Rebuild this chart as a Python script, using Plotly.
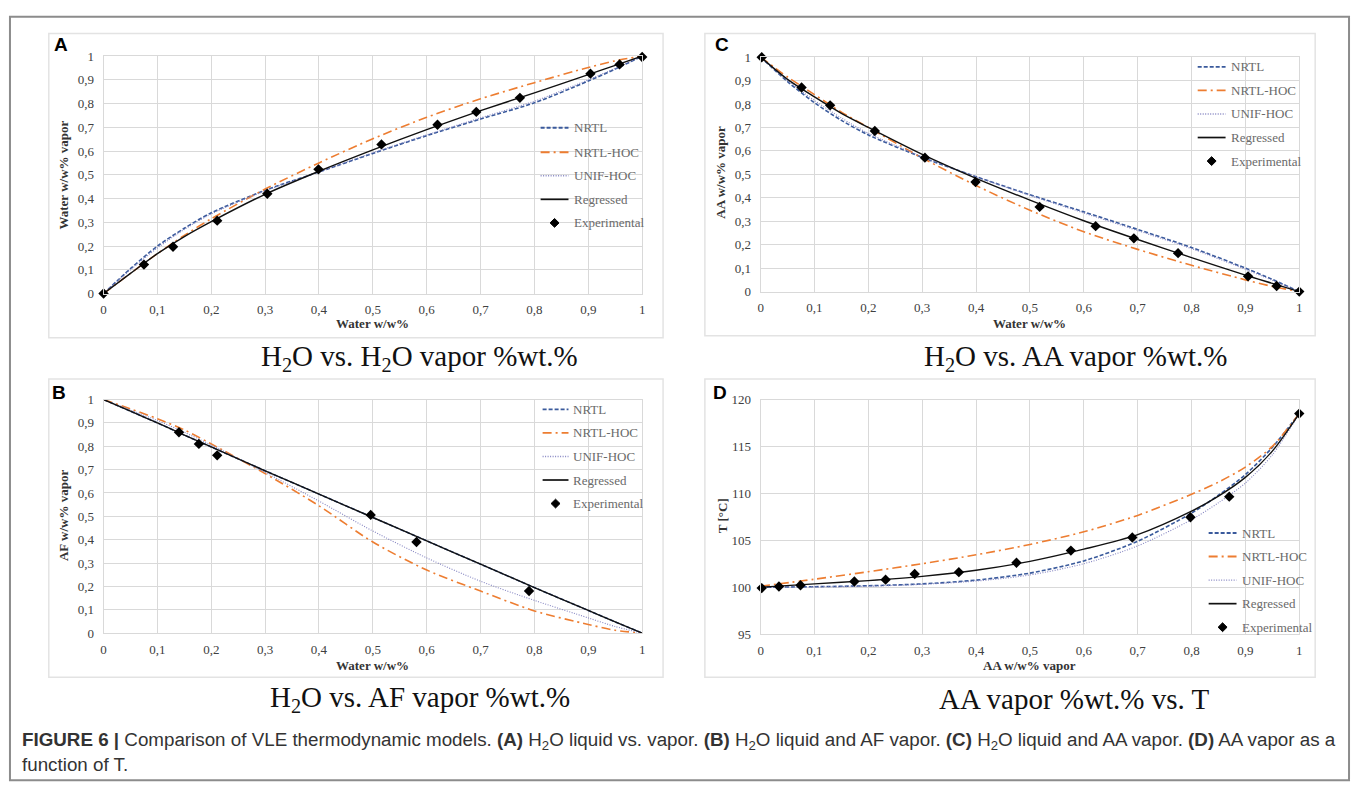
import plotly.graph_objects as go

# ---------------- data ----------------
tick_vals01 = [0, 0.1, 0.2, 0.3, 0.4, 0.5, 0.6, 0.7, 0.8, 0.9, 1.0]
tick_text01 = ["0", "0,1", "0,2", "0,3", "0,4", "0,5", "0,6", "0,7", "0,8", "0,9", "1"]
tick_vals_T = [95, 100, 105, 110, 115, 120]
tick_text_T = ["95", "100", "105", "110", "115", "120"]

series_names = ["NRTL", "NRTL-HOC", "UNIF-HOC", "Regressed", "Experimental"]

# Panel A: H2O liquid vs H2O vapor
A_x = [0, 0.05, 0.1, 0.15, 0.2, 0.3, 0.4, 0.5, 0.6, 0.7, 0.8, 0.9, 0.95, 1.0]
A_nrtl = [0, 0.105, 0.2, 0.275, 0.34, 0.435, 0.512, 0.59, 0.665, 0.735, 0.803, 0.895, 0.945, 1.0]
A_nrtl_hoc = [0, 0.085, 0.168, 0.245, 0.315, 0.44, 0.55, 0.652, 0.742, 0.82, 0.888, 0.952, 0.98, 1.0]
A_unif_hoc = [0, 0.1, 0.192, 0.27, 0.335, 0.432, 0.512, 0.593, 0.668, 0.74, 0.81, 0.9, 0.948, 1.0]
A_regressed = [0, 0.085, 0.168, 0.24, 0.303, 0.418, 0.515, 0.605, 0.69, 0.77, 0.845, 0.922, 0.961, 1.0]
A_exp_x = [0, 0.075, 0.129, 0.211, 0.304, 0.399, 0.516, 0.62, 0.692, 0.773, 0.904, 0.958, 1.0]
A_exp_y = [0, 0.122, 0.197, 0.307, 0.42, 0.523, 0.628, 0.711, 0.765, 0.824, 0.926, 0.965, 0.996]

# Panel B: H2O liquid vs AF vapor
B_x = [0, 0.05, 0.1, 0.15, 0.2, 0.3, 0.4, 0.5, 0.6, 0.7, 0.8, 0.9, 0.95, 1.0]
B_nrtl = [1, 0.95, 0.9, 0.848, 0.797, 0.695, 0.595, 0.495, 0.395, 0.295, 0.195, 0.097, 0.048, 0]
B_nrtl_hoc = [1, 0.96, 0.918, 0.87, 0.81, 0.683, 0.545, 0.39, 0.27, 0.18, 0.095, 0.037, 0.012, 0]
B_unif_hoc = [1, 0.955, 0.91, 0.86, 0.805, 0.688, 0.565, 0.437, 0.322, 0.222, 0.14, 0.065, 0.028, 0]
B_regressed = [1, 0.95, 0.9, 0.848, 0.797, 0.695, 0.595, 0.495, 0.395, 0.295, 0.195, 0.097, 0.048, 0]
B_exp_x = [0.14, 0.177, 0.211, 0.496, 0.581, 0.79]
B_exp_y = [0.86, 0.81, 0.761, 0.506, 0.39, 0.18]

# Panel C: H2O liquid vs AA vapor
C_x = [0, 0.05, 0.1, 0.15, 0.2, 0.3, 0.4, 0.5, 0.6, 0.7, 0.8, 0.9, 0.95, 1.0]
C_nrtl = [1, 0.895, 0.805, 0.73, 0.668, 0.572, 0.49, 0.413, 0.34, 0.265, 0.188, 0.1, 0.052, 0]
C_nrtl_hoc = [1, 0.915, 0.84, 0.765, 0.7, 0.57, 0.452, 0.347, 0.255, 0.18, 0.112, 0.05, 0.022, 0]
C_unif_hoc = [1, 0.9, 0.815, 0.74, 0.675, 0.575, 0.49, 0.41, 0.335, 0.26, 0.183, 0.095, 0.048, 0]
C_regressed = [1, 0.905, 0.83, 0.76, 0.7, 0.585, 0.483, 0.39, 0.302, 0.222, 0.145, 0.07, 0.035, 0]
C_exp_x = [0.002, 0.076, 0.129, 0.212, 0.305, 0.399, 0.518, 0.622, 0.693, 0.775, 0.905, 0.958, 1.0]
C_exp_y = [0.999, 0.87, 0.794, 0.685, 0.571, 0.467, 0.361, 0.279, 0.227, 0.164, 0.065, 0.024, 0.0]

# Panel D: AA vapor vs T
D_x = [0, 0.1, 0.2, 0.3, 0.4, 0.5, 0.6, 0.7, 0.8, 0.85, 0.9, 0.95, 1.0]
D_nrtl = [100.0, 100.05, 100.15, 100.35, 100.75, 101.5, 102.8, 104.9, 107.9, 109.8, 112.0, 114.9, 118.5]
D_nrtl_hoc = [100.1, 100.85, 101.65, 102.5, 103.45, 104.55, 105.9, 107.65, 109.9, 111.2, 112.8, 115.0, 118.5]
D_unif_hoc = [100.0, 100.03, 100.1, 100.3, 100.65, 101.3, 102.5, 104.4, 107.2, 109.0, 111.1, 114.1, 118.5]
D_regressed = [100.0, 100.35, 100.7, 101.15, 101.8, 102.75, 104.05, 105.6, 108.1, 109.7, 111.7, 114.5, 118.5]
D_exp_x = [0.002, 0.034, 0.074, 0.174, 0.232, 0.286, 0.368, 0.475, 0.576, 0.69, 0.798, 0.87, 1.0]
D_exp_y = [99.9, 100.07, 100.2, 100.6, 100.8, 101.4, 101.6, 102.6, 103.9, 105.3, 107.45, 109.65, 118.5]

panel_titles = ["H<sub>2</sub>O vs. H<sub>2</sub>O vapor %wt.%",
                "H<sub>2</sub>O vs. AF vapor %wt.%",
                "H<sub>2</sub>O vs. AA vapor %wt.%",
                "AA vapor %wt.% vs. T"]
x_titles = ["Water w/w%", "Water w/w%", "Water w/w%", "AA w/w% vapor"]
y_titles = ["Water w/w% vapor", "AF w/w% vapor", "AA w/w% vapor", "T [°C]"]
letters = ["A", "B", "C", "D"]
caption_line1 = ("<b>FIGURE 6 |</b> Comparison of VLE thermodynamic models. <b>(A)</b> H<sub>2</sub>O liquid vs. vapor. "
                 "<b>(B)</b> H<sub>2</sub>O liquid and AF vapor. <b>(C)</b> H<sub>2</sub>O liquid and AA vapor. "
                 "<b>(D)</b> AA vapor as a")
caption_line2 = "function of T."

# ---------------- styling ----------------
W, H = 1358, 804
def px(x):
    return x / W
def py(y):
    return 1 - y / H

COL = {"NRTL": "#3A5A9C", "NRTL-HOC": "#ED7D31", "UNIF-HOC": "#8585C2", "Regressed": "#111111"}
DASH = {"NRTL": "4px,2px", "NRTL-HOC": "9px,4px,2px,4px", "UNIF-HOC": "1px,1.5px", "Regressed": "solid"}
WID = {"NRTL": 1.6, "NRTL-HOC": 1.6, "UNIF-HOC": 1.1, "Regressed": 1.4}
SERIF = "Liberation Serif, Times New Roman, serif"
SANS = "Liberation Sans, Arial, sans-serif"

panels = [
    dict(key="A", ax="", x0=101, x1=642, y0=50, y1=292, box=(46, 27, 663, 337),
         curves=(A_x, A_nrtl, A_nrtl_hoc, A_unif_hoc, A_regressed), exp=(A_exp_x, A_exp_y), err=0.008,
         ytv=tick_vals01, ytt=tick_text01, yr=[0, 1],
         leg=dict(lx0=540, lx1=568, tx=572, mx=554, rows=[123, 148, 172, 196, 220]),
         title=(418, 358), xt=(371, 323), yt=(61, 171), letter=(58, 38)),
    dict(key="B", ax="3", x0=101, x1=642, y0=400, y1=638, box=(46, 379, 663, 683),
         curves=(B_x, B_nrtl, B_nrtl_hoc, B_unif_hoc, B_regressed), exp=(B_exp_x, B_exp_y), err=0.008,
         ytv=tick_vals01, ytt=tick_text01, yr=[0, 1],
         leg=dict(lx0=542, lx1=568, tx=571, mx=555, rows=[410, 434, 458, 482, 506]),
         title=(419, 705), xt=(371, 671), yt=(61, 518), letter=(56, 393)),
    dict(key="C", ax="2", x0=761, x1=1302, y0=51, y1=290, box=(705, 27, 1318, 335),
         curves=(C_x, C_nrtl, C_nrtl_hoc, C_unif_hoc, C_regressed), exp=(C_exp_x, C_exp_y), err=0.008,
         ytv=tick_vals01, ytt=tick_text01, yr=[0, 1],
         leg=dict(lx0=1200, lx1=1228, tx=1231, mx=1214, rows=[61, 85, 109, 133, 157]),
         title=(1077, 358), xt=(1031, 323), yt=(721, 168), letter=(722, 38)),
    dict(key="D", ax="4", x0=761, x1=1302, y0=400, y1=639, box=(705, 379, 1318, 683),
         curves=(D_x, D_nrtl, D_nrtl_hoc, D_unif_hoc, D_regressed), exp=(D_exp_x, D_exp_y), err=0.25,
         ytv=tick_vals_T, ytt=tick_text_T, yr=[95, 120],
         leg=dict(lx0=1211, lx1=1239, tx=1242, mx=1225, rows=[536, 560, 584, 608, 632]),
         title=(1076, 705), xt=(1031, 671), yt=(723, 518), letter=(720, 393)),
]

fig = go.Figure()
shapes = []
annotations = []

# outer frame
shapes.append(dict(type="rect", xref="paper", yref="paper", x0=px(7), x1=px(1352), y0=py(788), y1=py(10),
                   line=dict(color="#8c8c8c", width=2), fillcolor="rgba(0,0,0,0)", layer="below"))

layout_axes = {}
for i, p in enumerate(panels):
    xa = "x" + p["ax"]
    ya = "y" + p["ax"]
    xs, nrtl, hoc, unif, reg = p["curves"]
    for name, ys in zip(series_names[:4], [nrtl, hoc, unif, reg]):
        fig.add_trace(go.Scatter(x=xs, y=ys, mode="lines", name=name, xaxis=xa, yaxis=ya,
                                 line=dict(color=COL[name], dash=DASH[name], width=WID[name], shape="spline", smoothing=0.8),
                                 showlegend=False, cliponaxis=False, hoverinfo="skip"))
    ex, ey = p["exp"]
    fig.add_trace(go.Scatter(x=ex, y=ey, mode="markers", name="Experimental", xaxis=xa, yaxis=ya,
                             marker=dict(symbol="diamond", size=8, color="#000000"),
                             error_y=dict(type="constant", value=p["err"], color="#000000", thickness=1.4, width=0),
                             showlegend=False, cliponaxis=False))

    axis_common = dict(showgrid=True, gridcolor="#d9d9d9", gridwidth=1, showline=True, mirror=True,
                       linecolor="#d9d9d9", linewidth=1, zeroline=False, ticks="", fixedrange=True,
                       tickfont=dict(family=SERIF, size=13, color="#404040"))
    layout_axes["xaxis" + p["ax"]] = dict(axis_common, domain=[px(p["x0"]), px(p["x1"])], range=[0, 1],
                                          tickvals=tick_vals01, ticktext=tick_text01, anchor=ya,
                                          ticklabelstandoff=4)
    layout_axes["yaxis" + p["ax"]] = dict(axis_common, domain=[py(p["y1"]), py(p["y0"])], range=p["yr"],
                                          tickvals=p["ytv"], ticktext=p["ytt"], anchor=xa,
                                          ticklabelstandoff=6)

    bx0, by0, bx1, by1 = p["box"]
    shapes.append(dict(type="rect", xref="paper", yref="paper", x0=px(bx0), x1=px(bx1), y0=py(by1), y1=py(by0),
                       line=dict(color="#e3e3e3", width=1.5), fillcolor="rgba(0,0,0,0)", layer="below"))

    lg = p["leg"]
    for name, ry in zip(series_names, lg["rows"]):
        if name != "Experimental":
            shapes.append(dict(type="line", xref="paper", yref="paper", x0=px(lg["lx0"]), x1=px(lg["lx1"]),
                               y0=py(ry), y1=py(ry),
                               line=dict(color=COL[name], dash=DASH[name] if name != "Regressed" else "solid",
                                         width=WID[name] + 0.3)))
        else:
            cx, cy, r = lg["mx"], ry, 4.5
            path = f"M {px(cx)} {py(cy - r)} L {px(cx + r)} {py(cy)} L {px(cx)} {py(cy + r)} L {px(cx - r)} {py(cy)} Z"
            shapes.append(dict(type="path", xref="paper", yref="paper", path=path,
                               fillcolor="#000000", line=dict(color="#000000", width=1)))
        annotations.append(dict(text=name, xref="paper", yref="paper", x=px(lg["tx"]), y=py(ry),
                                xanchor="left", yanchor="middle", showarrow=False,
                                font=dict(family=SERIF, size=13, color="#6a6a6a")))

    annotations.append(dict(text=panel_titles[i], xref="paper", yref="paper", x=px(p["title"][0]), y=py(p["title"][1]),
                            xanchor="center", yanchor="middle", showarrow=False,
                            font=dict(family=SERIF, size=29, color="#111111")))
    annotations.append(dict(text="<b>" + x_titles[i] + "</b>", xref="paper", yref="paper",
                            x=px(p["xt"][0]), y=py(p["xt"][1]), xanchor="center", yanchor="middle",
                            showarrow=False, font=dict(family=SERIF, size=13, color="#333333")))
    annotations.append(dict(text="<b>" + y_titles[i] + "</b>", xref="paper", yref="paper",
                            x=px(p["yt"][0]), y=py(p["yt"][1]), xanchor="center", yanchor="middle",
                            textangle=-90, showarrow=False, font=dict(family=SERIF, size=13, color="#333333")))
    annotations.append(dict(text="<b>" + letters[i] + "</b>", xref="paper", yref="paper",
                            x=px(p["letter"][0]), y=py(p["letter"][1]), xanchor="center", yanchor="middle",
                            showarrow=False, font=dict(family=SANS, size=19, color="#000000")))

annotations.append(dict(text=caption_line1, xref="paper", yref="paper", x=px(17), y=py(748),
                        xanchor="left", yanchor="middle", showarrow=False,
                        font=dict(family=SANS, size=18.8, color="#333333")))
annotations.append(dict(text=caption_line2, xref="paper", yref="paper", x=px(17), y=py(772),
                        xanchor="left", yanchor="middle", showarrow=False,
                        font=dict(family=SANS, size=18.8, color="#333333")))

fig.update_layout(width=W, height=H, autosize=False, margin=dict(l=0, r=0, t=0, b=0),
                  paper_bgcolor="white", plot_bgcolor="white", showlegend=False,
                  shapes=shapes, annotations=annotations, **layout_axes)

# remove the default page margin so the figure sits at the window origin
fig.write_html("out.html", config={"displayModeBar": False},
               post_script="document.body.style.margin='0';document.body.style.overflow='hidden';")
